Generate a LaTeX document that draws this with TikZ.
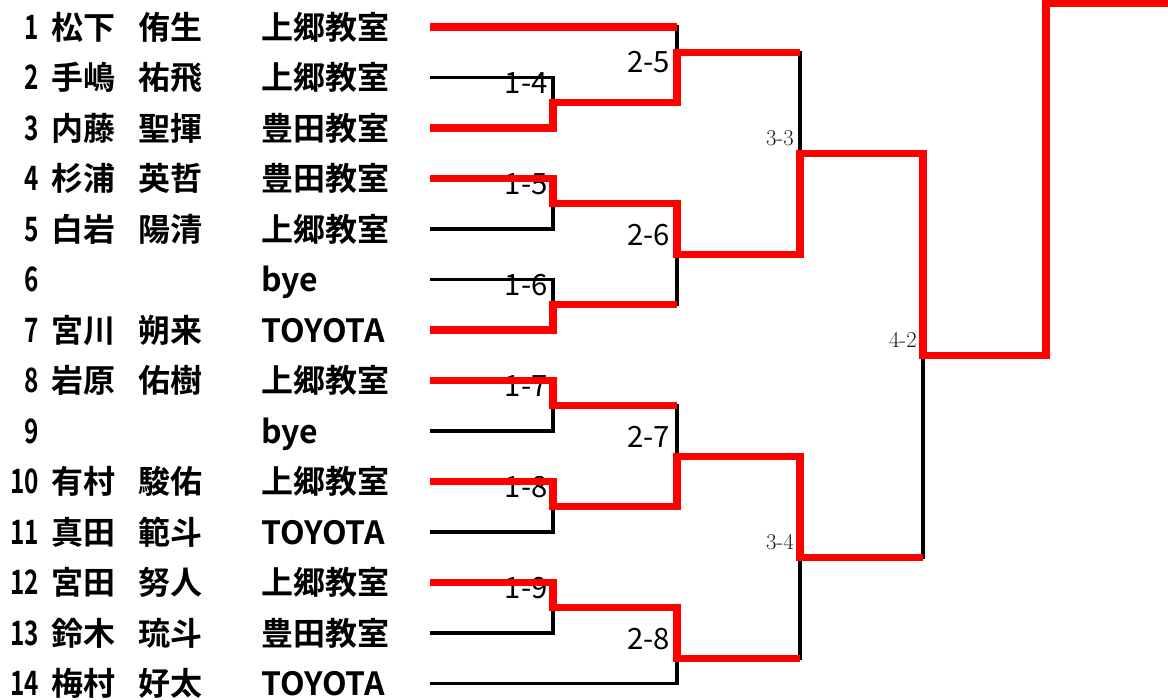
\documentclass[tikz,border=0pt]{standalone}
\usepackage{fontspec}
\usepackage{graphicx}
\setmainfont{Noto Sans CJK JP}[BoldFont=* Bold]
\newfontfamily\lmserif{Latin Modern Roman}
\usetikzlibrary{calc}
\tikzset{x=0.75pt, y=-0.75pt}
\tikzset{bracket/.style={draw=black, line width=2.4pt}}
\tikzset{winner/.style={draw=red, line width=5.4pt}}
\tikzset{player/.style={inner sep=0pt, font=\bfseries\fontsize{24}{24}\selectfont}}
\tikzset{score/.style={inner sep=0pt, anchor=base east, font=\fontsize{22}{22}\selectfont}}
\tikzset{late/.style={inner sep=0pt, anchor=base east, text=black!90, font=\lmserif\fontsize{17}{17}\selectfont}}
\newcommand{\rowy}[1]{27+(#1-1)*50.5}

\begin{document}
\begin{tikzpicture}
\useasboundingbox (0,0) rectangle (1168,700);
\foreach \i in {1,...,14} \coordinate (e\i) at (430,{\rowy{\i}});
\foreach \n/\x/\r in {14/553/2.5, 15/553/4.5, 16/553/6.5, 17/553/8.5, 18/553/10.5, 19/553/12.5,
    25/677/1.5, 26/677/5.5, 27/677/9.5, 28/677/13.5, 33/800/3.5, 34/800/11.5, 42/923/7.5}
  \coordinate (m\n) at (\x,{\rowy{\r}});
\coordinate (f1) at (1046,3.3);
\coordinate (f2) at (1168,3.3);

\foreach \i/\cl in {1/上郷教室, 2/上郷教室, 3/豊田教室, 4/豊田教室, 5/上郷教室, 6/bye, 7/TOYOTA,
    8/上郷教室, 9/bye, 10/上郷教室, 11/TOYOTA, 12/上郷教室, 13/豊田教室, 14/TOYOTA}{
  \node[player, anchor=base east] (n\i) at (39,{\rowy{\i}+12}) {\scalebox{0.76}[1.05]{\i}};
  \node[player, anchor=base west] (c\i) at (261,{\rowy{\i}+12}) {\cl};
}
\foreach \i/\sn/\gn in {1/松下/侑生, 2/手嶋/祐飛, 3/内藤/聖揮, 4/杉浦/英哲, 5/白岩/陽清, 7/宮川/朔来,
    8/岩原/佑樹, 10/有村/駿佑, 11/真田/範斗, 12/宮田/努人, 13/鈴木/琉斗, 14/梅村/好太}{
  \node[player, anchor=base west] (s\i) at (51,{\rowy{\i}+12}) {\sn};
  \node[player, anchor=base west] (g\i) at (138,{\rowy{\i}+12}) {\gn};
}

\node[score] (l14) at ($(m14)+(-5,-9)$) {1-4};
\node[score] (l15) at ($(m15)+(-5,-9)$) {1-5};
\node[score] (l16) at ($(m16)+(-5,-9)$) {1-6};
\node[score] (l17) at ($(m17)+(-5,-9)$) {1-7};
\node[score] (l18) at ($(m18)+(-5,-9)$) {1-8};
\node[score] (l19) at ($(m19)+(-5,-9)$) {1-9};
\node[score] (l25) at ($(m25)+(-7,20)$) {2-5};
\node[score] (l26) at ($(m26)+(-7,-9)$) {2-6};
\node[score] (l27) at ($(m27)+(-7,-9)$) {2-7};
\node[score] (l28) at ($(m28)+(-7,-9)$) {2-8};
\node[late] (l33) at ($(m33)+(-6,-8)$) {3-3};
\node[late] (l34) at ($(m34)+(-6,-8)$) {3-4};
\node[late] (l42) at ($(m42)+(-6,-8)$) {4-2};

\draw[bracket] (e2) -| (m14) |- (e3);
\draw[bracket] (e4) -| (m15) |- (e5);
\draw[bracket] (e6) -| (m16) |- (e7);
\draw[bracket] (e8) -| (m17) |- (e9);
\draw[bracket] (e10) -| (m18) |- (e11);
\draw[bracket] (e12) -| (m19) |- (e13);
\draw[bracket] (e1) -| (m25) |- (m14);
\draw[bracket] (m15) -| (m26) |- (m16);
\draw[bracket] (m17) -| (m27) |- (m18);
\draw[bracket] (m19) -| (m28) |- (e14);
\draw[bracket] (m25) -| (m33) |- (m26);
\draw[bracket] (m27) -| (m34) |- (m28);
\draw[bracket] (m33) -| (m42) |- (m34);
\draw[bracket] (m42) -| (f1) -- (f2);

\draw[winner] (e1) -- (e1 -| m25);
\draw[winner] (e3) -| (m14) -| (m25) -- (m25 -| m33);
\draw[winner] (e4) -| (m15) -| (m26) -| (m33) -| (m42) -| (f1) -- (f2);
\draw[winner] (e7) -| (m16) -- (m16 -| m26);
\draw[winner] (e8) -| (m17) -- (m17 -| m27);
\draw[winner] (e10) -| (m18) -| (m27) -| (m34) -- (m34 -| m42);
\draw[winner] (e12) -| (m19) -| (m28) -- (m28 -| m34);
\end{tikzpicture}
\end{document}
